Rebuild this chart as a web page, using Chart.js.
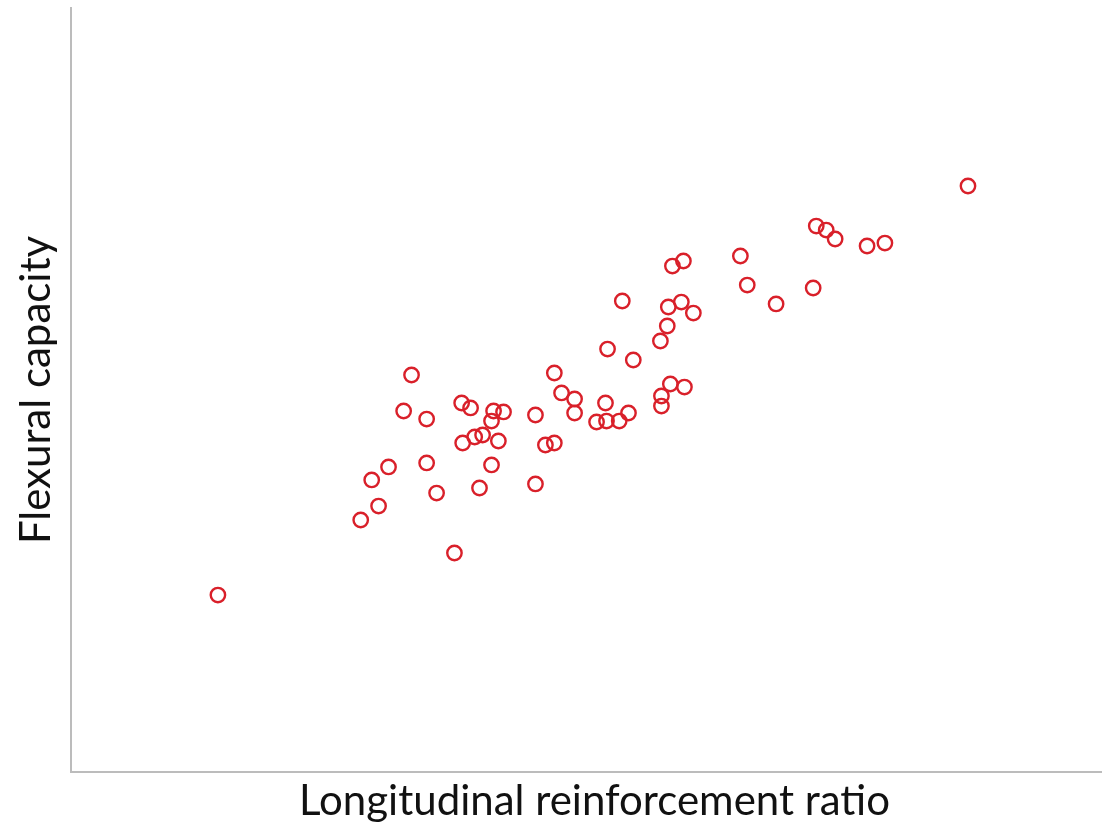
<!DOCTYPE html>
<html>
<head>
<meta charset="utf-8">
<script src="https://cdn.jsdelivr.net/npm/chart.js@4.4.1/dist/chart.umd.min.js"></script>
<style>
  html, body { margin: 0; padding: 0; background: #ffffff; overflow: hidden; }
  #chart { display: block; }
</style>
</head>
<body>
<canvas id="chart" width="1118" height="824"></canvas>
<script>
// Longitudinal reinforcement ratio (%) of each specimen
const reinforcementRatio = [
  0.428, 0.844, 0.896, 0.876, 0.925, 0.969, 0.992, 1.036, 1.036, 1.065,
  1.117, 1.138, 1.164, 1.141, 1.176, 1.199, 1.190, 1.225, 1.225, 1.231,
  1.260, 1.245, 1.353, 1.353, 1.382, 1.408, 1.408, 1.429, 1.467, 1.467,
  1.531, 1.557, 1.560, 1.563, 1.597, 1.624, 1.606, 1.638, 1.717, 1.720,
  1.720, 1.737, 1.740, 1.746, 1.752, 1.784, 1.778, 1.787, 1.813, 1.950,
  1.970, 2.054, 2.162, 2.171, 2.200, 2.226, 2.319, 2.371, 2.613
];

// Flexural capacity (kN·m) of each specimen
const flexuralCapacity = [
  185.3, 263.9, 278.5, 305.8, 319.4, 378.0, 415.7, 369.6, 323.6, 292.1,
  229.3, 386.4, 381.2, 344.5, 350.8, 352.9, 297.4, 321.5, 367.5, 378.0,
  377.0, 346.6, 301.6, 373.8, 342.4, 344.5, 417.8, 396.9, 390.6, 375.9,
  366.5, 386.4, 367.5, 442.9, 367.5, 375.9, 493.2, 431.4, 451.3, 393.7,
  383.2, 467.0, 486.9, 406.3, 529.8, 535.1, 492.1, 403.1, 480.6, 540.3,
  509.9, 490.1, 506.8, 571.7, 567.5, 558.1, 550.8, 553.9, 613.6
];

const xTitle = 'Longitudinal reinforcement ratio';
const yTitle = 'Flexural capacity';

const points = reinforcementRatio.map((x, i) => ({ x: x, y: flexuralCapacity[i] }));

const axisColor = '#bcbcbc';
const markerColor = '#d9202a';
const fontFamily = 'Lato, "Open Sans", sans-serif';

new Chart(document.getElementById('chart'), {
  type: 'scatter',
  data: {
    datasets: [{
      data: points,
      pointStyle: 'circle',
      pointRadius: 7.2,
      pointHoverRadius: 7.2,
      pointBorderWidth: 2.4,
      pointBorderColor: markerColor,
      pointBackgroundColor: 'rgba(0,0,0,0)'
    }]
  },
  options: {
    responsive: false,
    animation: false,
    events: [],
    layout: { autoPadding: false, padding: { top: 8, left: 0, right: 0, bottom: 0 } },
    plugins: {
      legend: { display: false },
      tooltip: { enabled: false }
    },
    scales: {
      x: {
        type: 'linear',
        min: 0,
        max: 3.05,
        grid: { display: false, drawTicks: false },
        border: { display: true, color: axisColor, width: 2 },
        ticks: { display: false },
        title: {
          display: true,
          text: xTitle,
          color: '#111111',
          font: { family: fontFamily, size: 42, lineHeight: 1.05 },
          padding: { top: 0, bottom: 0 }
        },
        afterFit(scale) { scale.height = 52; }
      },
      y: {
        type: 'linear',
        min: 0,
        max: 800,
        grid: { display: false, drawTicks: false },
        border: { display: true, color: axisColor, width: 2 },
        ticks: { display: false },
        title: {
          display: true,
          text: yTitle,
          color: '#111111',
          font: { family: fontFamily, size: 42, lineHeight: 1.2 },
          padding: { top: 11, bottom: 0 }
        },
        afterFit(scale) { scale.width = 71; }
      }
    }
  }
});
</script>
</body>
</html>
